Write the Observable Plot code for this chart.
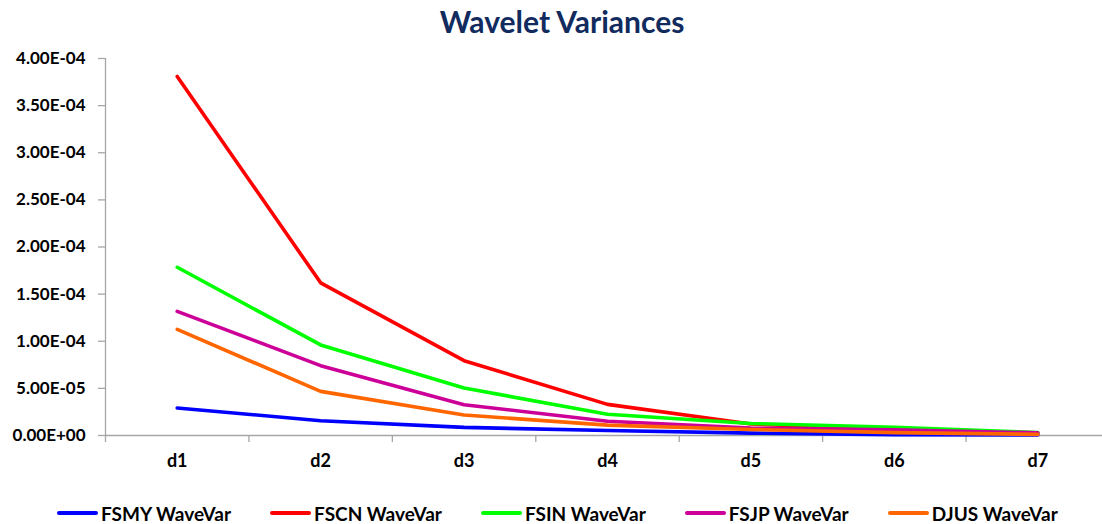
<!DOCTYPE html>
<html>
<head>
<meta charset="utf-8">
<script src="https://cdn.jsdelivr.net/npm/d3@7"></script>
<script src="https://cdn.jsdelivr.net/npm/@observablehq/plot@0.6"></script>
<style>
  html, body { margin: 0; padding: 0; background: #fff; }
  body { width: 1102px; height: 524px; position: relative; overflow: hidden; font-family: Lato, "Open Sans", sans-serif; }
  #title { height: 45px; box-sizing: border-box; padding-top: 6px; padding-left: 22px; text-align: center;
           font-size: 30px; font-weight: bold; line-height: 1; color: #112b5e; }
  #chart svg { display: block; }
  #legend { position: absolute; top: 503px; left: 57px; height: 20px; display: flex; align-items: center; gap: 39px;
            font-size: 19px; font-weight: bold; color: #000; }
  .item { display: flex; align-items: center; gap: 3px; white-space: nowrap; }
  .swatch { width: 41px; height: 4px; border-radius: 2px; }
</style>
</head>
<body>
<div id="title">Wavelet Variances</div>
<div id="chart"></div>
<div id="legend"></div>
<script>
// Wavelet scales
const categories = ["d1", "d2", "d3", "d4", "d5", "d6", "d7"];

// Wavelet variance per scale for each index
const fsmy = [2.92e-5, 1.57e-5, 0.86e-5, 0.53e-5, 0.25e-5, 0.09e-5, 0.05e-5];
const fscn = [3.81e-4, 1.62e-4, 7.94e-5, 3.30e-5, 1.22e-5, 0.60e-5, 0.25e-5];
const fsin = [1.785e-4, 9.61e-5, 5.04e-5, 2.25e-5, 1.28e-5, 0.88e-5, 0.32e-5];
const fsjp = [1.317e-4, 7.41e-5, 3.27e-5, 1.52e-5, 0.78e-5, 0.60e-5, 0.28e-5];
const djus = [1.126e-4, 4.68e-5, 2.18e-5, 1.10e-5, 0.64e-5, 0.30e-5, 0.12e-5];

const seriesNames = ["FSMY WaveVar", "FSCN WaveVar", "FSIN WaveVar", "FSJP WaveVar", "DJUS WaveVar"];
const seriesColors = ["#0000ff", "#ff0000", "#00ff00", "#cc0099", "#ff6600"];
const yTicks = [0, 5e-5, 1e-4, 1.5e-4, 2e-4, 2.5e-4, 3e-4, 3.5e-4, 4e-4];

const seriesValues = [fsmy, fscn, fsin, fsjp, djus];
const rows = seriesValues.flatMap((vals, s) =>
  vals.map((v, i) => ({series: seriesNames[s], pos: i + 1, value: v}))
);

// category centres sit at 1..n, category boundaries halfway between
const centers = categories.map((_, i) => i + 1);
const boundaries = d3.range(categories.length + 1).map(i => i + 0.5);

// Excel-style scientific notation, e.g. 4.00E-04
const sci = d => {
  const [m, e] = d.toExponential(2).split("e");
  const n = Math.abs(+e);
  return `${m}E${+e < 0 ? "-" : "+"}${String(n).padStart(2, "0")}`;
};

const axisGray = "#a6a6a6";

const chart = Plot.plot({
  width: 1102,
  height: 440,
  marginLeft: 105,
  marginRight: -7,
  marginTop: 13,
  marginBottom: 50,
  style: {fontFamily: "Lato, 'Open Sans', sans-serif", fontWeight: "bold", color: "#000", background: "#fff"},
  x: {type: "linear", domain: [0.5, categories.length + 0.5]},
  y: {domain: [0, 4e-4]},
  color: {domain: seriesNames, range: seriesColors},
  marks: [
    Plot.ruleY([0], {stroke: axisGray, strokeWidth: 1.3}),
    Plot.ruleX([boundaries[0]], {y1: 0, y2: 4e-4, stroke: axisGray, strokeWidth: 1.3}),
    Plot.axisY({ticks: yTicks, tickFormat: sci, tickSize: 7, tickPadding: 13, stroke: axisGray, strokeWidth: 1.3,
                fill: "#000", fontSize: 17, fontWeight: "bold", label: null}),
    Plot.axisX({ticks: boundaries, tickFormat: () => "", tickSize: 7, stroke: axisGray, strokeWidth: 1.3, label: null}),
    Plot.axisX({ticks: centers, tickFormat: i => categories[i - 1], tickSize: 0, tickPadding: 19,
                fill: "#000", fontSize: 18, fontWeight: "bold", label: null}),
    Plot.line(rows, {x: "pos", y: "value", z: "series", stroke: "series", strokeWidth: 3.6, strokeLinejoin: "round"})
  ]
});
document.getElementById("chart").appendChild(chart);

const legend = document.getElementById("legend");
seriesNames.forEach((name, i) => {
  const item = document.createElement("div");
  item.className = "item";
  const sw = document.createElement("span");
  sw.className = "swatch";
  sw.style.background = seriesColors[i];
  const label = document.createElement("span");
  label.textContent = name;
  item.append(sw, label);
  legend.appendChild(item);
});
</script>
</body>
</html>
